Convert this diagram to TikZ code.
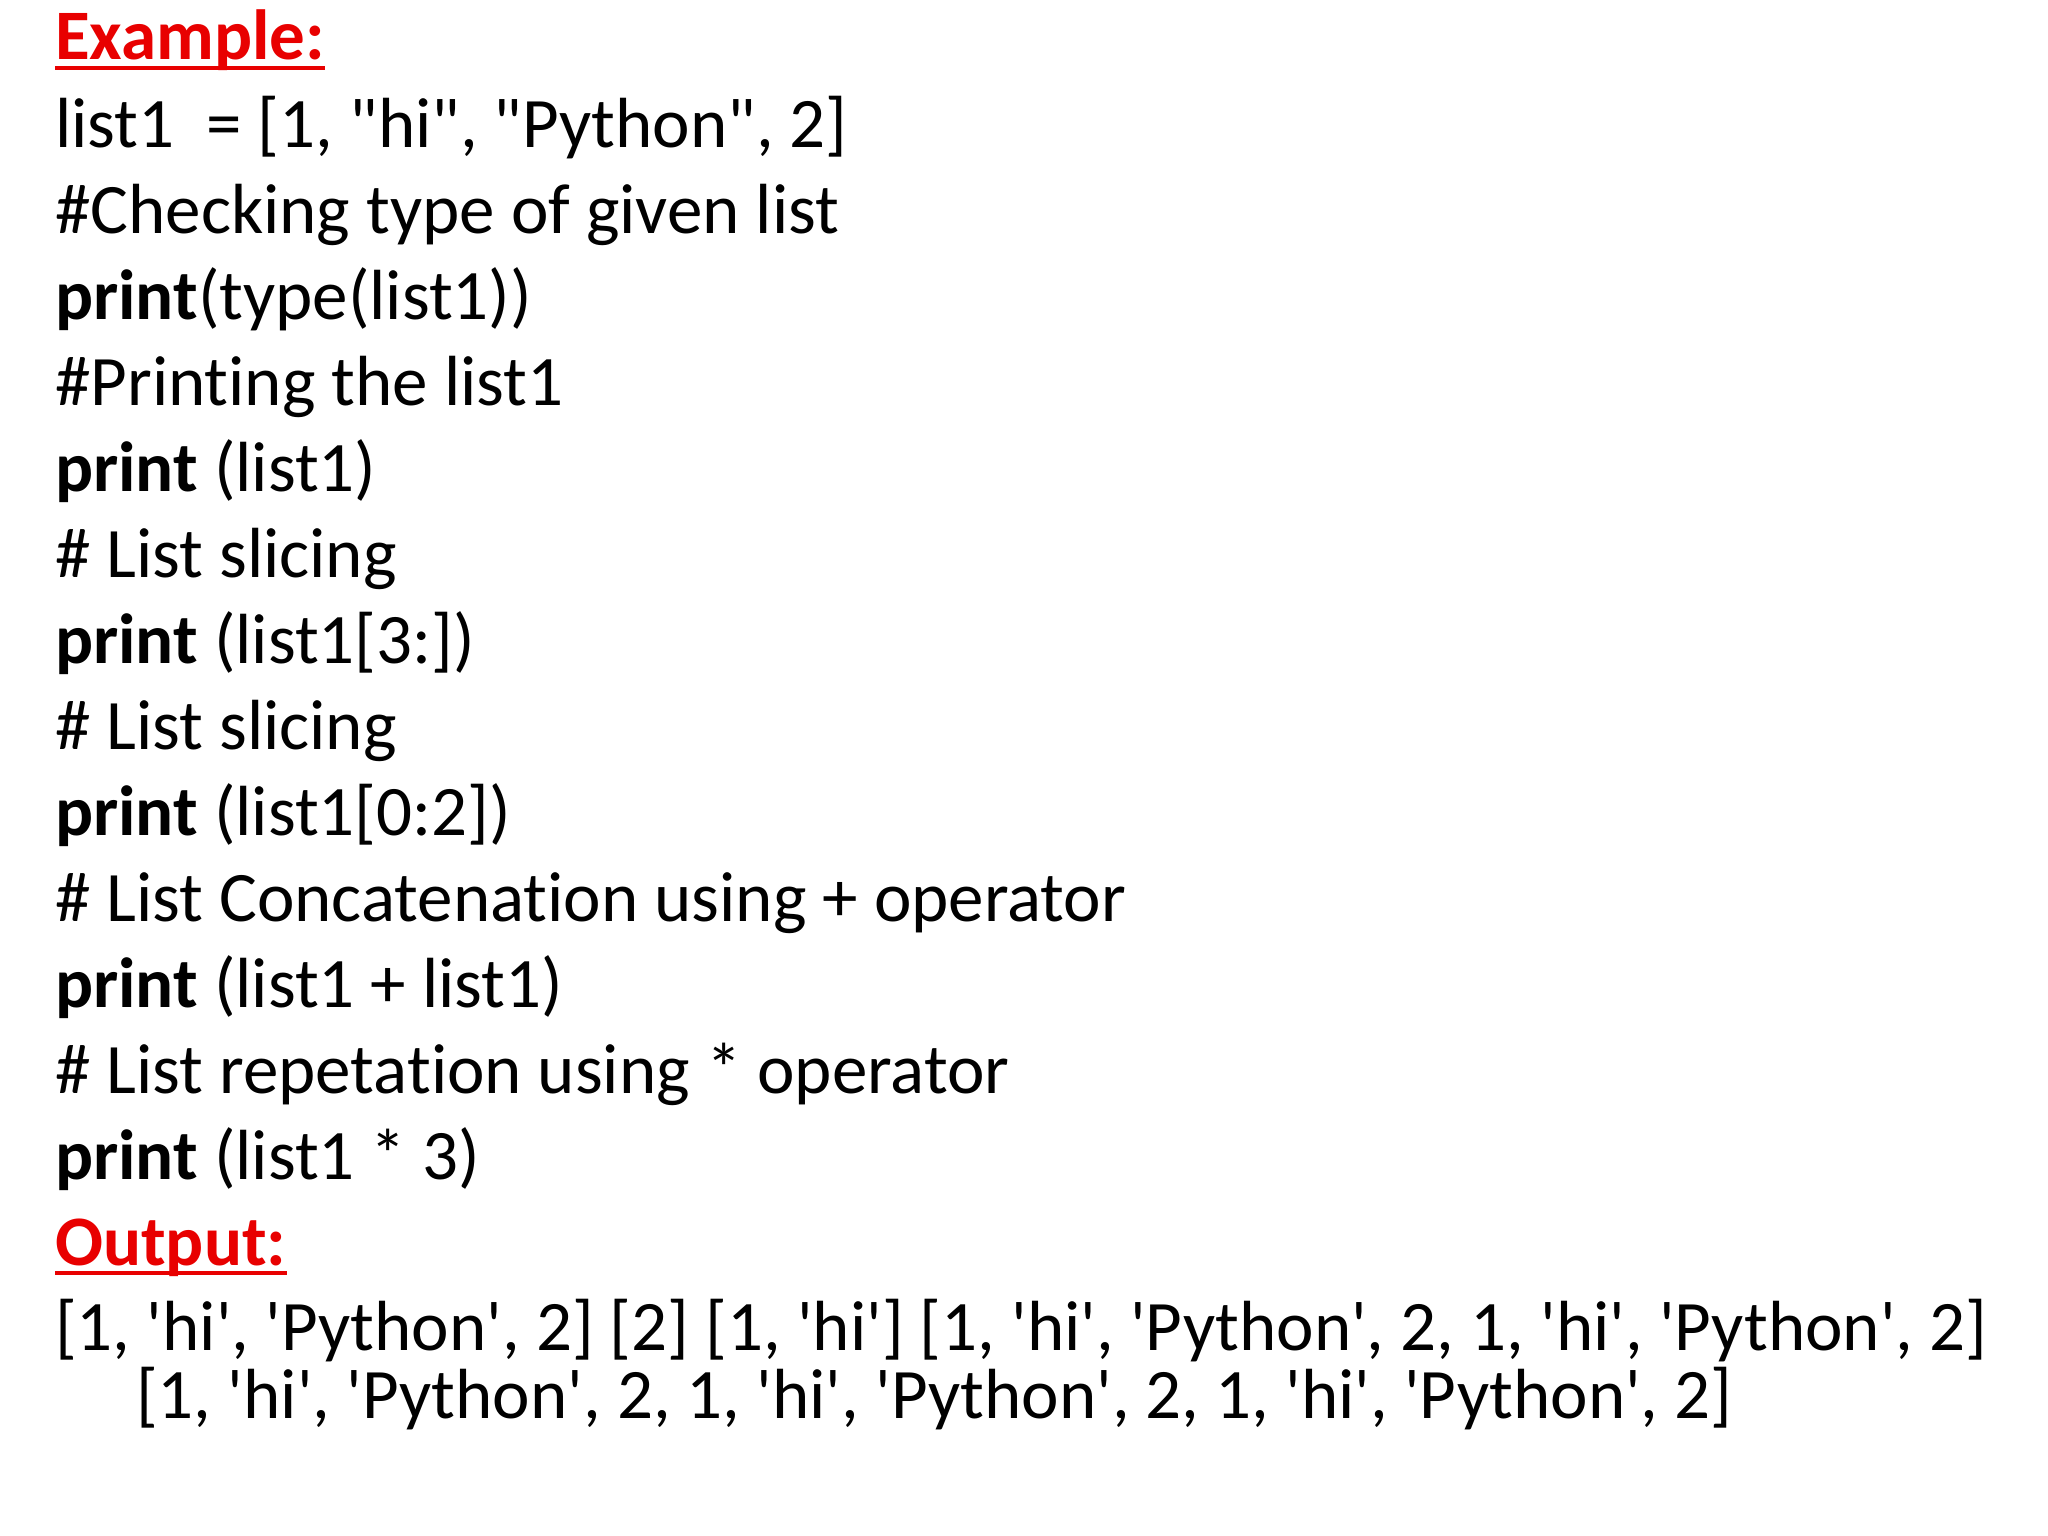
\documentclass[tikz,border=0pt]{standalone}
\usepackage{fontspec}
\setmainfont{Carlito}[Ligatures={TeXOff,CommonOff}]
\definecolor{hred}{RGB}{232,0,0}
\tikzset{ln/.style={anchor=base west,inner sep=0pt,font=\fontsize{71}{84}\selectfont},
hd/.style={ln,text=hred,font=\fontsize{71}{84}\selectfont\bfseries}}
\begin{document}
\begin{tikzpicture}[x=1pt,y=-1pt]
\useasboundingbox[fill=white] (0,0) rectangle (2048,1536);
\node[hd] (ex) at (55,60) {Example:};
\draw[hred,line width=3.5pt] ([yshift=-8pt]ex.base west) -- ([yshift=-8pt]ex.base east);
\node[ln] (l1) at (55,147) {list1\ \ = [1, "hi", "Python", 2]};
\node[ln] (l2) at (55,233) {\#Checking type of given list};
\node[ln] (l3) at (55,319) {\textbf{print}(type(list1))};
\node[ln] (l4) at (55,405) {\#Printing the list1};
\node[ln] (l5) at (55,491) {\textbf{print} (list1)};
\node[ln] (l6) at (55,577) {\# List slicing};
\node[ln] (l7) at (55,663) {\textbf{print} (list1[3:])};
\node[ln] (l8) at (55,749) {\# List slicing};
\node[ln] (l9) at (55,835) {\textbf{print} (list1[0:2])};
\node[ln] (l10) at (55,921) {\# List Concatenation using + operator};
\node[ln] (l11) at (55,1007) {\textbf{print} (list1 + list1)};
\node[ln] (l12) at (55,1093) {\# List repetation using * operator};
\node[ln] (l13) at (55,1179) {\textbf{print} (list1 * 3)};
\node[hd] (out) at (55,1265) {Output:};
\draw[hred,line width=3.5pt] ([yshift=-8pt]out.base west) -- ([yshift=-8pt]out.base east);
\node[ln] (o1) at (55,1350) {[1, 'hi', 'Python', 2] [2] [1, 'hi'] [1, 'hi', 'Python', 2, 1, 'hi', 'Python', 2]};
\node[ln] (o2) at (136,1418) {[1, 'hi', 'Python', 2, 1, 'hi', 'Python', 2, 1, 'hi', 'Python', 2]};
\end{tikzpicture}
\end{document}
